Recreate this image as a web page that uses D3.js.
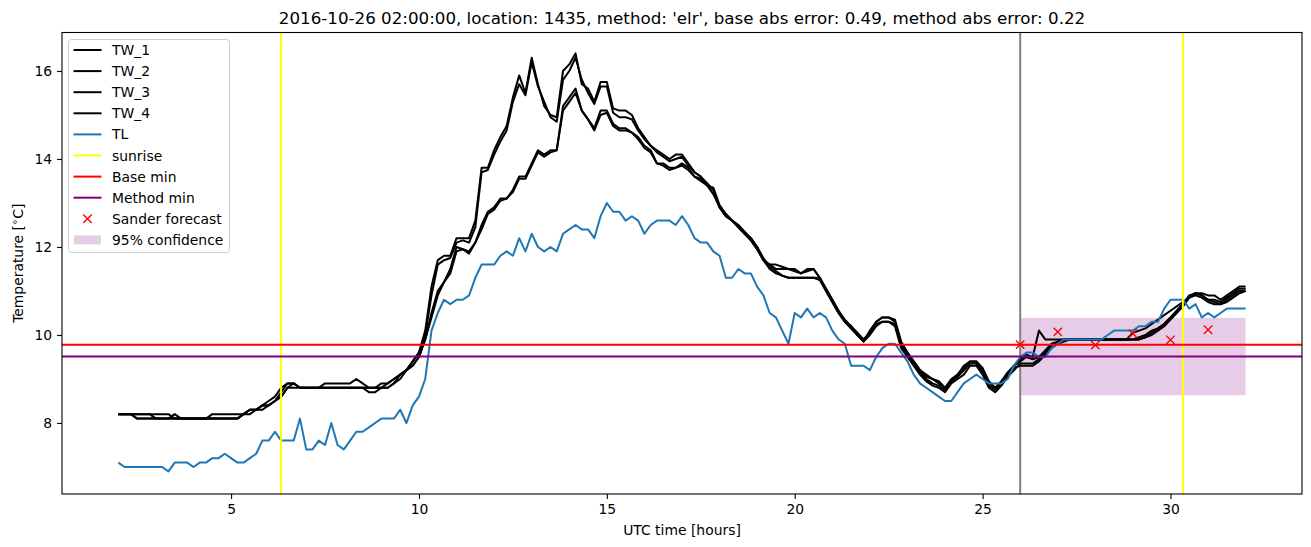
<!DOCTYPE html>
<html><head><meta charset="utf-8">
<script src="https://cdn.jsdelivr.net/npm/d3@7"></script>
<style>body{margin:0;background:#fff} svg{display:block} text{font-family:"DejaVu Sans",sans-serif;fill:#000}</style>
</head><body><svg id="c" width="1311" height="547"></svg>
<script>
// ---- data (10-minute samples from 02:00 to 32:00 UTC hours) ----
const TW_1 = [
8.2,8.2,8.2,8.2,8.2,8.2, 8.2,8.2,8.2,8.1,8.1,8.1, 8.1,8.1,8.1,8.2,8.2,8.2, 8.2,8.2,8.2,8.3,8.3,8.4,
8.4,8.5,8.7,8.9,8.9,8.8, 8.8,8.8,8.8,8.9,8.9,8.9, 8.9,8.9,9.0,8.9,8.8,8.8, 8.9,8.9,9.0,9.1,9.2,9.4,
9.6,10.1,11.1,11.7,11.8,11.8, 12.2,12.2,12.2,12.6,13.8,13.8, 14.2,14.5,14.75,15.4,15.9,15.5,
16.3,15.7,15.2,15.0,14.95,16.0, 16.15,16.4,15.7,15.6,15.3,15.75, 15.75,15.15,15.1,15.1,15.0,14.7,
14.5,14.3,14.2,14.1,14.0,14.1, 14.1,13.9,13.7,13.6,13.45,13.3, 12.9,12.7,12.6,12.45,12.3,12.15,
11.95,11.7,11.6,11.6,11.55,11.5, 11.45,11.4,11.45,11.5,11.3,11.0, 10.75,10.5,10.3,10.15,10.0,9.85,
10.1,10.3,10.4,10.4,10.3,9.8, 9.6,9.4,9.2,9.1,9.0,8.95, 8.8,9.0,9.1,9.3,9.4,9.4,
9.2,8.9,8.8,8.95,9.15,9.3, 9.45,9.55,9.5,10.1,9.9,9.9, 9.9,9.9,9.9,9.9,9.9,9.9, 9.9,9.9,9.9,9.9,9.9,9.9,
10.05,10.1,10.15,10.25,10.35,10.45, 10.55,10.65,10.75,10.85,10.95,10.95, 10.9,10.9,10.8,10.9,11.0,11.1,
11.1];
const TW_2 = [
8.2,8.2,8.2,8.1,8.1,8.1, 8.1,8.1,8.1,8.2,8.1,8.1, 8.1,8.1,8.1,8.1,8.1,8.1, 8.1,8.1,8.2,8.3,8.3,8.3,
8.4,8.5,8.6,8.8,8.9,8.8, 8.8,8.8,8.8,8.8,8.8,8.8, 8.8,8.8,8.8,8.8,8.8,8.8, 8.8,8.9,9.0,9.1,9.2,9.4,
9.6,10.0,10.9,11.6,11.7,11.75, 12.1,12.15,12.1,12.45,13.7,13.75, 14.1,14.4,14.65,15.3,15.7,15.45,
16.2,15.65,15.3,14.95,14.85,15.8, 16.0,16.3,15.8,15.5,15.25,15.65, 15.65,15.05,14.95,14.95,14.9,14.65,
14.45,14.3,14.15,14.05,13.95,14.0, 14.05,13.85,13.7,13.6,13.4,13.2, 12.9,12.75,12.6,12.5,12.3,12.2,
12.0,11.7,11.6,11.5,11.5,11.5, 11.5,11.4,11.5,11.5,11.3,11.05, 10.8,10.55,10.3,10.2,10.0,9.9,
10.05,10.3,10.4,10.4,10.35,9.85, 9.6,9.4,9.2,9.05,9.0,8.9, 8.8,8.95,9.1,9.25,9.4,9.4,
9.25,8.95,8.8,8.9,9.1,9.3, 9.4,9.5,9.45,9.5,9.65,9.8, 9.85,9.9,9.9,9.9,9.9,9.9, 9.9,9.9,9.9,9.9,9.9,9.9,
9.9,9.9,9.95,10.05,10.15,10.25, 10.4,10.55,10.7,10.85,10.95,10.9, 10.8,10.8,10.75,10.85,10.95,11.05,
11.05];
const TW_3 = [
8.2,8.2,8.2,8.2,8.2,8.2, 8.1,8.1,8.1,8.1,8.1,8.1, 8.1,8.1,8.1,8.1,8.1,8.1, 8.1,8.1,8.2,8.2,8.3,8.4,
8.5,8.6,8.8,8.9,8.9,8.8, 8.8,8.8,8.8,8.8,8.8,8.8, 8.8,8.8,8.8,8.8,8.7,8.7, 8.8,8.8,8.9,9.0,9.2,9.3,
9.5,9.9,10.5,11.0,11.2,11.5, 12.0,11.95,11.9,12.1,12.5,12.8, 12.9,13.1,13.1,13.3,13.6,13.6,
13.9,14.2,14.1,14.2,14.2,15.2, 15.4,15.6,15.1,14.9,14.7,15.1, 15.1,14.8,14.7,14.7,14.6,14.5,
14.3,14.2,13.9,13.9,13.8,13.8, 13.9,13.8,13.6,13.55,13.4,13.3, 12.9,12.7,12.6,12.45,12.3,12.15,
11.95,11.7,11.5,11.4,11.35,11.3, 11.3,11.3,11.3,11.3,11.25,11.0, 10.75,10.5,10.3,10.15,10.0,9.85,
10.0,10.2,10.3,10.3,10.2,9.7, 9.5,9.3,9.1,8.95,8.85,8.8, 8.7,8.9,9.0,9.1,9.3,9.3,
9.1,8.8,8.7,8.85,9.05,9.2, 9.35,9.35,9.35,9.45,9.6,9.75, 9.85,9.9,9.9,9.9,9.9,9.9, 9.9,9.9,9.9,9.9,9.9,9.9,
9.9,9.95,10.0,10.1,10.15,10.25, 10.4,10.55,10.7,10.9,10.95,10.9, 10.8,10.75,10.7,10.8,10.9,11.0,
11.0];
const TW_4 = [
8.2,8.2,8.2,8.1,8.1,8.1, 8.1,8.1,8.1,8.1,8.1,8.1, 8.1,8.1,8.1,8.1,8.1,8.1, 8.1,8.1,8.2,8.3,8.3,8.4,
8.4,8.5,8.6,8.8,8.8,8.8, 8.8,8.8,8.8,8.8,8.8,8.8, 8.8,8.8,8.8,8.8,8.8,8.8, 8.8,8.8,8.9,9.1,9.2,9.3,
9.5,9.9,10.4,10.9,11.2,11.4, 11.9,11.95,11.85,12.1,12.4,12.75, 12.85,13.05,13.1,13.25,13.55,13.55,
13.85,14.15,14.05,14.15,14.2,15.1, 15.3,15.5,15.1,14.9,14.65,15.0, 15.05,14.75,14.65,14.65,14.6,14.45,
14.25,14.15,13.9,13.85,13.75,13.8, 13.85,13.75,13.6,13.5,13.4,13.35, 12.95,12.75,12.6,12.5,12.35,12.2,
12.0,11.75,11.55,11.45,11.35,11.3, 11.3,11.3,11.3,11.3,11.3,11.05, 10.8,10.55,10.35,10.2,10.05,9.9,
10.05,10.25,10.3,10.3,10.25,9.75, 9.55,9.35,9.15,9.0,8.9,8.85, 8.75,8.95,9.05,9.2,9.35,9.35,
9.15,8.85,8.75,8.9,9.1,9.25, 9.3,9.3,9.3,9.4,9.55,9.7, 9.8,9.85,9.9,9.9,9.9,9.9, 9.9,9.9,9.9,9.9,9.9,9.9,
9.9,9.9,9.95,10.0,10.1,10.2, 10.35,10.5,10.65,10.85,10.9,10.85, 10.75,10.7,10.7,10.75,10.85,10.95,
11.0];
const TL = [
7.1,7.0,7.0,7.0,7.0,7.0, 7.0,7.0,6.9,7.1,7.1,7.1, 7.0,7.1,7.1,7.2,7.2,7.3, 7.2,7.1,7.1,7.2,7.3,7.6,
7.6,7.8,7.6,7.6,7.6,8.1, 7.4,7.4,7.6,7.5,8.0,7.5, 7.4,7.6,7.8,7.8,7.9,8.0, 8.1,8.1,8.1,8.3,8.0,8.4,
8.6,9.0,10.1,10.5,10.8,10.7, 10.8,10.8,10.9,11.3,11.6,11.6, 11.6,11.8,11.9,11.8,12.2,11.9,
12.3,12.0,11.9,12.0,11.9,12.3, 12.4,12.5,12.4,12.4,12.2,12.7, 13.0,12.8,12.8,12.6,12.7,12.6,
12.3,12.5,12.6,12.6,12.6,12.5, 12.7,12.5,12.2,12.1,12.1,11.9, 11.8,11.3,11.3,11.5,11.4,11.4,
11.1,10.9,10.5,10.4,10.1,9.8, 10.5,10.4,10.6,10.4,10.5,10.4, 10.1,9.9,9.8,9.3,9.3,9.3,
9.2,9.5,9.7,9.8,9.8,9.6, 9.4,9.1,8.9,8.8,8.7,8.6, 8.5,8.5,8.7,8.9,9.0,9.1,
9.0,8.9,8.9,8.9,9.0,9.3, 9.5,9.6,9.6,9.5,9.5,9.7, 9.8,9.9,9.9,9.9,9.9,9.9, 9.9,9.9,10.0,10.1,10.1,10.1,
10.1,10.2,10.2,10.3,10.3,10.6, 10.8,10.8,10.8,10.6,10.7,10.4, 10.5,10.4,10.5,10.6,10.6,10.6,
10.6];
const startHour = 2, stepsPerHour = 6;
const sunrise = [6.33, 30.33];
const forecastTime = 26;
const baseMin = 9.78;
const methodMin = 9.51;
const confidence = {start: 26, end: 32, low: 8.63, high: 10.39};
const sanderX = [26, 27, 28, 29, 30, 31];
const sanderY = [9.78, 10.07, 9.77, 10.03, 9.89, 10.12];
const xTicks = [5, 10, 15, 20, 25, 30];
const yTicks = [8, 10, 12, 14, 16];
const title = "2016-10-26 02:00:00, location: 1435, method: 'elr', base abs error: 0.49, method abs error: 0.22";

// ---- layout ----
const svg = d3.select("#c");
const L = 62, R = 1302, T = 32.5, B = 494;
const x = d3.scaleLinear().domain([0.5, 33.5]).range([L, R]);
const y = d3.scaleLinear().domain([6.386, 16.875]).range([B, T]);
const hours = d3.range(TL.length).map(i => startHour + i / stepsPerHour);
const LW = 2.0;
const FS = 13.9;

svg.append("defs").append("clipPath").attr("id", "clip")
  .append("rect").attr("x", L).attr("y", T).attr("width", R - L).attr("height", B - T);
const g = svg.append("g").attr("clip-path", "url(#clip)");

// confidence band (patch, drawn below lines)
g.append("rect")
  .attr("x", x(confidence.start)).attr("width", x(confidence.end) - x(confidence.start))
  .attr("y", y(confidence.high)).attr("height", y(confidence.low) - y(confidence.high))
  .attr("fill", "purple").attr("fill-opacity", 0.2);

// forecast time line
g.append("line").attr("x1", x(forecastTime)).attr("x2", x(forecastTime))
  .attr("y1", T).attr("y2", B).attr("stroke", "grey").attr("stroke-width", LW);

const line = d3.line().x((d, i) => x(hours[i])).y(d => y(d));
[TW_1, TW_2, TW_3, TW_4].forEach(s => {
  g.append("path").datum(s).attr("d", line).attr("fill", "none")
    .attr("stroke", "black").attr("stroke-width", LW).attr("stroke-linejoin", "round");
});
g.append("path").datum(TL).attr("d", line).attr("fill", "none")
  .attr("stroke", "#1f77b4").attr("stroke-width", LW).attr("stroke-linejoin", "round");

sunrise.forEach(s => g.append("line").attr("x1", x(s)).attr("x2", x(s)).attr("y1", T).attr("y2", B)
  .attr("stroke", "yellow").attr("stroke-width", LW));
g.append("line").attr("x1", L).attr("x2", R).attr("y1", y(baseMin)).attr("y2", y(baseMin))
  .attr("stroke", "red").attr("stroke-width", LW);
g.append("line").attr("x1", L).attr("x2", R).attr("y1", y(methodMin)).attr("y2", y(methodMin))
  .attr("stroke", "purple").attr("stroke-width", LW);

function xMark(sel, cx, cy) {
  const s = 4.2;
  sel.append("path").attr("d", `M${cx - s},${cy - s}L${cx + s},${cy + s}M${cx - s},${cy + s}L${cx + s},${cy - s}`)
    .attr("stroke", "red").attr("stroke-width", 1.4).attr("fill", "none");
}
sanderX.forEach((d, i) => xMark(g, x(d), y(sanderY[i])));

// ---- axes ----
const xa = svg.append("g").attr("transform", `translate(0,${B})`)
  .call(d3.axisBottom(x).tickValues(xTicks).tickSize(4.9).tickPadding(4.9).tickFormat(d3.format("d")));
const ya = svg.append("g").attr("transform", `translate(${L},0)`)
  .call(d3.axisLeft(y).tickValues(yTicks).tickSize(4.9).tickPadding(4.9).tickFormat(d3.format("d")));
[xa, ya].forEach(a => {
  a.select(".domain").remove();
  a.selectAll("line").attr("stroke", "#000").attr("stroke-width", 1.1);
  a.selectAll("text").attr("font-family", "DejaVu Sans").attr("font-size", FS).attr("fill", "#000");
});
svg.append("rect").attr("x", L).attr("y", T).attr("width", R - L).attr("height", B - T)
  .attr("fill", "none").attr("stroke", "#000").attr("stroke-width", 1.1);

svg.append("text").attr("x", (L + R) / 2).attr("y", 24).attr("text-anchor", "middle")
  .attr("font-size", 16.7).text(title);
svg.append("text").attr("x", (L + R) / 2).attr("y", 535).attr("text-anchor", "middle")
  .attr("font-size", FS).text("UTC time [hours]");
const yl = svg.append("text").attr("transform", `translate(23,${(T + B) / 2}) rotate(-90)`)
  .attr("text-anchor", "middle").attr("font-size", FS);
yl.append("tspan").text("Temperature [");
yl.append("tspan").attr("dy", -5).attr("font-size", 10).text("\u2218");
yl.append("tspan").attr("dy", 5).text("C]");

// ---- legend ----
const leg = svg.append("g");
leg.append("rect").attr("x", 68.5).attr("y", 39.5).attr("width", 161).attr("height", 213).attr("rx", 3)
  .attr("fill", "white").attr("fill-opacity", 0.8).attr("stroke", "#cccccc").attr("stroke-width", 1);
const items = [
  {label: "TW_1", type: "line", color: "black"},
  {label: "TW_2", type: "line", color: "black"},
  {label: "TW_3", type: "line", color: "black"},
  {label: "TW_4", type: "line", color: "black"},
  {label: "TL", type: "line", color: "#1f77b4"},
  {label: "sunrise", type: "line", color: "yellow"},
  {label: "Base min", type: "line", color: "red"},
  {label: "Method min", type: "line", color: "purple"},
  {label: "Sander forecast", type: "x", color: "red"},
  {label: "95% confidence", type: "patch", color: "purple"}
];
items.forEach((it, i) => {
  const cy = 50 + i * 21.1;
  if (it.type === "line") {
    leg.append("line").attr("x1", 73.5).attr("x2", 101.5).attr("y1", cy).attr("y2", cy)
      .attr("stroke", it.color).attr("stroke-width", LW);
  } else if (it.type === "x") {
    xMark(leg, 87.5, cy);
  } else {
    leg.append("rect").attr("x", 74).attr("y", cy - 4.5).attr("width", 27).attr("height", 9)
      .attr("fill", it.color).attr("fill-opacity", 0.2);
  }
  leg.append("text").attr("x", 112).attr("y", cy + 5).attr("font-size", FS).text(it.label);
});
</script></body></html>
